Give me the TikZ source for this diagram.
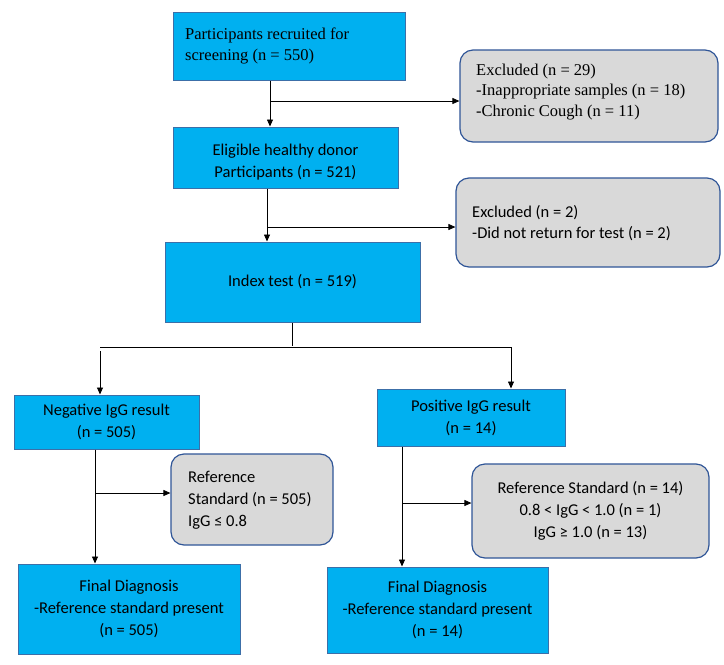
\documentclass[tikz,border=0pt]{standalone}
\usepackage{fontspec}
\setmainfont{Carlito}
\newfontfamily\serifface{Liberation Serif}
\usetikzlibrary{arrows.meta}
\definecolor{boxblue}{HTML}{00B0F0}
\definecolor{blueedge}{HTML}{3C6FA8}
\definecolor{greyfill}{HTML}{D9D9D9}
\definecolor{greyedge}{HTML}{2F5597}
\tikzset{
  bluebox/.style={draw=blueedge, line width=1pt, fill=boxblue, rectangle, inner sep=0pt, font=\fontsize{16.5}{22}\selectfont},
  greybox/.style={draw=greyedge, line width=1.2pt, fill=greyfill, rectangle, rounded corners=13pt, inner sep=0pt, font=\fontsize{16.5}{22}\selectfont},
  txt/.style={inner sep=0pt, font=\fontsize{16.5}{22}\selectfont},
  arr/.style={draw=black, line width=0.8pt, -{Triangle[length=7pt,width=6pt]}},
  ln/.style={draw=black, line width=0.8pt},
}
\begin{document}
\begin{tikzpicture}[x=1pt,y=-1pt]
\useasboundingbox (0,0) rectangle (724,665);
% blue boxes
\node[bluebox, minimum width=232pt, minimum height=68pt] (p1) at (289,46) {};
\node[txt, anchor=west, align=left, font=\serifface\fontsize{16.5}{21.5}\selectfont] (p1t) at (185,46) {Participants recruited for\\screening (n = 550)};
\node[bluebox, minimum width=225pt, minimum height=61pt] (p2) at (285.5,157.5) {};
\node[txt, align=center] (p2t) at (285.5,162) {Eligible healthy donor\\Participants (n = 521)};
\node[bluebox, minimum width=255pt, minimum height=80pt, align=center] (idx) at (292.5,282) {Index test (n = 519)};
\node[bluebox, minimum width=185pt, minimum height=54pt, align=center] (neg) at (106.5,422) {Negative IgG result\\(n = 505)};
\node[bluebox, minimum width=188pt, minimum height=57pt, align=center] (pos) at (471,417.5) {Positive IgG result\\(n = 14)};
\node[bluebox, minimum width=222pt, minimum height=90pt, align=center] (fneg) at (129,609) {Final Diagnosis\\-Reference standard present\\(n = 505)};
\node[bluebox, minimum width=221pt, minimum height=86pt, align=center] (fpos) at (437.5,610) {Final Diagnosis\\-Reference standard present\\(n = 14)};
% grey boxes
\node[greybox, minimum width=258pt, minimum height=92pt] (ex1) at (589,96) {};
\node[txt, anchor=west, align=left, font=\serifface\fontsize{16.5}{20.5}\selectfont] (ex1t) at (476,92) {Excluded (n = 29)\\-Inappropriate samples (n = 18)\\-Chronic Cough (n = 11)};
\node[greybox, minimum width=264pt, minimum height=89pt] (ex2) at (588,222.5) {};
\node[txt, anchor=west, align=left, font=\fontsize{16.5}{21}\selectfont] (ex2t) at (472,223) {Excluded (n = 2)\\-Did not return for test (n = 2)};
\node[greybox, minimum width=162pt, minimum height=91pt] (rneg) at (252,499.5) {};
\node[txt, anchor=west, align=left] (rnegt) at (188,500) {Reference\\Standard (n = 505)\\IgG ≤ 0.8};
\node[greybox, minimum width=237pt, minimum height=94pt, align=center] (rpos) at (590.5,511) {Reference Standard (n = 14)\\0.8 < IgG < 1.0 (n = 1)\\IgG ≥ 1.0 (n = 13)};
% branch coordinates
\coordinate (b1) at (270,101);
\coordinate (b2) at (267,227);
\coordinate (b3) at (292,347);
\coordinate (b3l) at (100,347);
\coordinate (b3r) at (511,347);
\coordinate (b4) at (95,493);
\coordinate (b5) at (402,503);
% connectors
\draw[arr] (p1.south -| b1) -- (p2.north -| b1);
\draw[arr] (b1) -- (b1 -| ex1.west);
\draw[arr] (p2.south -| b2) -- (idx.north -| b2);
\draw[arr] (b2) -- (b2 -| ex2.west);
\draw[ln] (idx.south -| b3) -- ([yshift=1pt]b3);
\draw[ln] (b3l) -- (b3r);
\draw[arr] ([yshift=-4pt]b3l) -- (neg.north -| b3l);
\draw[arr] (b3r) -- (pos.north -| b3r);
\draw[arr] (neg.south -| b4) -- (fneg.north -| b4);
\draw[arr] (b4) -- (b4 -| rneg.west);
\draw[arr] (pos.south -| b5) -- (fpos.north -| b5);
\draw[arr] (b5) -- (b5 -| rpos.west);
\end{tikzpicture}
\end{document}
